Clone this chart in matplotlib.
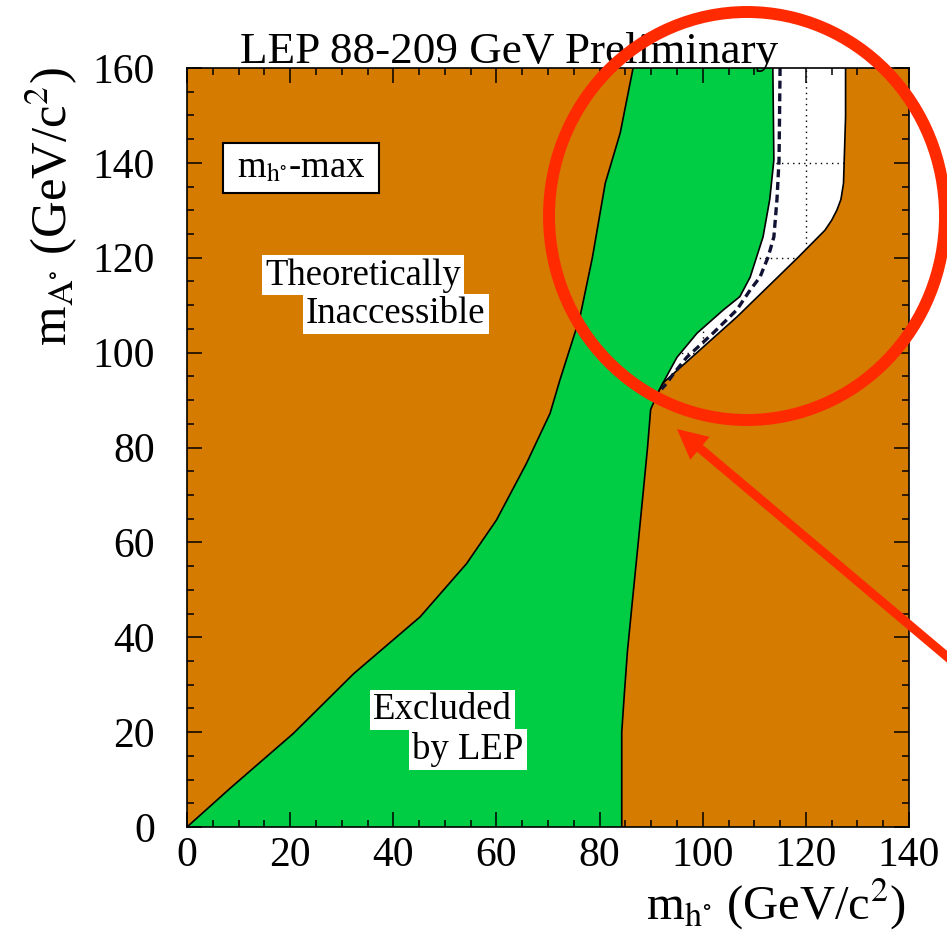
import numpy as np
import matplotlib
matplotlib.use("Agg")
import matplotlib.pyplot as plt
from matplotlib.patches import Polygon, Rectangle, Ellipse, FancyArrow
from matplotlib.transforms import IdentityTransform

plt.rcParams['font.family'] = ['Liberation Serif', 'DejaVu Serif']
plt.rcParams['mathtext.fontset'] = 'stix'

# boundary between theoretically inaccessible (left) and LEP exclusion
left_x = [0, 8.3, 20.6, 32.3, 45.2, 54.2, 60.0, 65.8, 70.4, 72.3, 74.0, 76.2, 78.6, 81.1, 84.0, 86.5]
left_y = [0, 8.1, 19.7, 32.3, 44.3, 55.5, 64.7, 76.6, 87.2, 94.2, 100, 107.5, 120, 135.7, 146.3, 160]

# lower right edge of the excluded region (up to the junction)
low_x = [84.3, 84.3, 84.8, 85.4, 86.4, 87.5, 88.5, 89.3, 89.9, 91.3]
low_y = [0, 20.0, 28, 37, 48, 60, 71, 80, 88, 91.5]

# observed exclusion edge above the junction
obs_x = [91.3, 92.3, 95.0, 98.9, 104.0, 107.2, 109.2, 111.7, 113.0, 113.8, 113.6]
obs_y = [91.5, 93.6, 99.0, 104.1, 109.0, 111.8, 115.9, 124.4, 132.3, 140.6, 160]

# theoretical upper bound of m_h (right side)
theo_x = [91.3, 92.3, 106.7, 118.6, 123.7, 125.0, 126.0, 126.8, 127.3, 127.7, 127.7]
theo_y = [91.5, 93.6, 107.6, 120.2, 125.8, 127.9, 130.0, 132.3, 135.7, 149.7, 160]

# expected exclusion (dashed)
exp_x = [115.0, 114.8, 114.4, 113.8, 112.7, 111.1, 109.2, 106.6, 102.0, 96.9, 94.3, 93.0, 92.0]
exp_y = [160, 140.6, 132.3, 124.4, 120.2, 115.9, 113.2, 109.0, 104.1, 99.0, 95.5, 93.5, 92.3]

xticks = [0, 20, 40, 60, 80, 100, 120, 140]
yticks = [0, 20, 40, 60, 80, 100, 120, 140, 160]

orange = '#d57b00'
green = '#00cc44'
red = '#ff2a00'

fig = plt.figure(figsize=(9.47, 9.40), dpi=100)
ax = fig.add_axes([187 / 947, 1 - 827 / 940, 722 / 947, 759 / 940])
ax.set_xlim(0, 140)
ax.set_ylim(0, 160)
ax.set_facecolor('white')

# dotted grid, only seen through the unfilled (allowed) region
for v in xticks[1:-1]:
    ax.axvline(v, color='black', lw=1, ls=(0, (1, 3)), zorder=0.5)
for v in yticks[1:-1]:
    ax.axhline(v, color='black', lw=1, ls=(0, (1, 3)), zorder=0.5)

lx, ly = np.array(left_x), np.array(left_y)
wx, wy = np.array(low_x), np.array(low_y)
ox, oy = np.array(obs_x), np.array(obs_y)
tx, ty = np.array(theo_x), np.array(theo_y)

# theoretically inaccessible, left
poly_l = np.column_stack([np.r_[lx, 0], np.r_[ly, 160]])
ax.add_patch(Polygon(poly_l, closed=True, fc=orange, ec='none', zorder=1))

# theoretically inaccessible, right
poly_r = np.column_stack([np.r_[wx, tx[1:], 140, 140], np.r_[wy, ty[1:], 160, 0]])
ax.add_patch(Polygon(poly_r, closed=True, fc=orange, ec='none', zorder=1))

# excluded by LEP
poly_g = np.column_stack([np.r_[lx, ox[::-1], wx[::-1]], np.r_[ly, oy[::-1], wy[::-1]]])
ax.add_patch(Polygon(poly_g, closed=True, fc=green, ec='none', zorder=1))

for bx, by in [(lx, ly), (wx, wy), (ox, oy), (tx, ty)]:
    ax.plot(bx, by, color='black', lw=1.2, zorder=2, solid_joinstyle='round')
ax.plot(exp_x, exp_y, color='#111133', lw=2.4, ls=(0, (2.4, 1.4)), zorder=2)

ax.set_xticks(xticks)
ax.set_yticks(yticks)
ax.set_xticks(np.arange(0, 141, 5), minor=True)
ax.set_yticks(np.arange(0, 161, 5), minor=True)
ax.tick_params(which='both', direction='in', top=True, right=True, width=1.1, color='black')
ax.tick_params(which='major', length=11)
ax.tick_params(which='minor', length=5)
ax.tick_params(axis='x', labelsize=30, pad=7)
ax.tick_params(axis='y', labelsize=30, pad=23)
for s in ax.spines.values():
    s.set_linewidth(1.2)
    s.set_zorder(3)

# labels inside the plot
ax.add_patch(Rectangle((7.0, 133.6), 30.2, 10.6, fc='white', ec='black', lw=1.5, zorder=4))
ax.text(22.1, 138.9, r'm$_{\mathrm{h}^{\circ}}$-max', fontsize=26.5, ha='center', va='center', zorder=5)

box = dict(facecolor='white', edgecolor='none', pad=2)
ax.text(34.1, 116.3, 'Theoretically', fontsize=26.5, ha='center', va='center', bbox=box, zorder=5)
ax.text(40.5, 108.2, 'Inaccessible', fontsize=26.5, ha='center', va='center', bbox=box, zorder=5)
ax.text(49.6, 24.7, 'Excluded', fontsize=26.5, ha='center', va='center', bbox=box, zorder=5)
ax.text(54.5, 16.4, 'by LEP', fontsize=26.5, ha='center', va='center', bbox=box, zorder=5)

fig.text(240 / 947, 1 - 63 / 940, 'LEP 88-209 GeV Preliminary', fontsize=32.5,
         ha='left', va='baseline')
fig.text(906 / 947, 1 - 920 / 940, r'm$_{\mathrm{h}^{\circ}}$ (GeV/c$^{2}$)', fontsize=35,
         ha='right', va='baseline')
fig.text(80 / 947, 1 - 207 / 940, r'm$_{\mathrm{A}^{\circ}}$ (GeV/c$^{2}$)', fontsize=36.5,
         ha='right', va='center', rotation=90)

# red highlight ring and arrow, in pixel units
ring = Ellipse((747, 940 - 216), 396, 408, fill=False, ec=red, lw=8.6,
               transform=IdentityTransform(), zorder=10)
fig.add_artist(ring)
x0, y0 = 960, 940 - 667.6
x1, y1 = 677, 940 - 429
arrow = FancyArrow(x0, y0, x1 - x0, y1 - y0, width=9, head_width=30, head_length=30,
                   length_includes_head=True, fc=red, ec='none',
                   transform=IdentityTransform(), zorder=10)
fig.add_artist(arrow)

fig.savefig('out.png', dpi=100)
